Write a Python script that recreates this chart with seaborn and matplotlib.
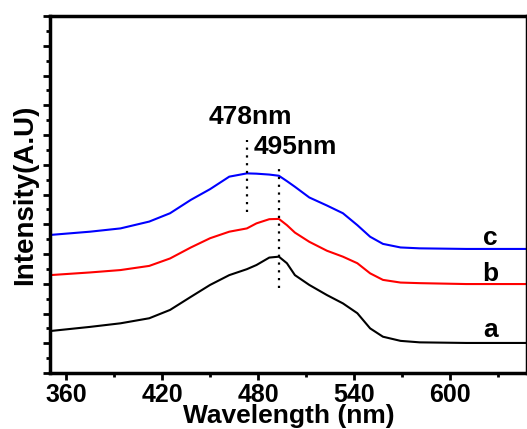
import seaborn as sns
import matplotlib.pyplot as plt
import pandas as pd
from matplotlib.ticker import MultipleLocator, NullFormatter

# wavelength grid (nm) and the three spectra, offset as in the figure
wavelength = [350, 375, 394, 412, 425, 438, 450, 462, 473, 479, 487, 493,
              498, 503, 512, 523, 533, 542, 550, 558, 569, 581, 610, 648]
spec_a = [1.41, 1.55, 1.67, 1.84, 2.12, 2.56, 2.96, 3.29, 3.49, 3.63, 3.88, 3.91,
          3.69, 3.29, 2.96, 2.62, 2.34, 2.01, 1.50, 1.22, 1.08, 1.03, 1.01, 1.01]
spec_b = [3.29, 3.38, 3.46, 3.60, 3.85, 4.22, 4.53, 4.75, 4.86, 5.03, 5.17, 5.18,
          4.97, 4.72, 4.41, 4.11, 3.91, 3.69, 3.35, 3.13, 3.04, 3.02, 2.99, 2.99]
spec_c = [4.64, 4.75, 4.86, 5.09, 5.37, 5.82, 6.18, 6.60, 6.71, 6.70, 6.67, 6.63,
          6.45, 6.26, 5.90, 5.63, 5.37, 4.97, 4.58, 4.34, 4.22, 4.19, 4.17, 4.17]
series_names = ["a", "b", "c"]
series_colors = ["black", "red", "blue"]

# peak markers
peak_pos = [473, 493]
peak_top = [7.83, 6.99]
peak_bottom = [5.41, 2.86]
peak_labels = ["478nm", "495nm"]

rows = []
for name, vals in zip(series_names, [spec_a, spec_b, spec_c]):
    for w, v in zip(wavelength, vals):
        rows.append({"wavelength": w, "intensity": v, "sample": name})
df = pd.DataFrame(rows)

sns.set_style("ticks")
plt.rcParams['font.family'] = ['Liberation Sans', 'DejaVu Sans']
plt.rcParams['font.weight'] = 'bold'
for key in ['text.color', 'axes.labelcolor', 'xtick.color', 'ytick.color', 'axes.edgecolor']:
    plt.rcParams[key] = 'black'

fig = plt.figure(figsize=(5.27, 4.29), dpi=100)
ax = fig.add_axes([50 / 527, 56 / 429, 477 / 527, 357 / 429])

sns.lineplot(data=df, x="wavelength", y="intensity", hue="sample",
             palette=dict(zip(series_names, series_colors)),
             estimator=None, sort=True, linewidth=1.5, legend=False, ax=ax)

ax.vlines(peak_pos, peak_bottom, peak_top, colors="black",
          linestyles=(0, (1, 2.5)), linewidth=1.6)

ax.text(475, 8.6, peak_labels[0], fontsize=19, fontweight="bold",
        ha="center", va="center")
ax.text(503, 7.6, peak_labels[1], fontsize=19, fontweight="bold",
        ha="center", va="center")

for name, y in zip(series_names, [1.45, 3.33, 4.54]):
    ax.text(625, y, name, fontsize=19, fontweight="bold",
            ha="center", va="center")

ax.set_xlim(350, 648)
ax.set_ylim(0, 12)
ax.xaxis.set_major_locator(MultipleLocator(60))
ax.xaxis.set_minor_locator(MultipleLocator(30))
ax.yaxis.set_major_locator(MultipleLocator(1))
ax.yaxis.set_minor_locator(MultipleLocator(0.5))
ax.yaxis.set_major_formatter(NullFormatter())

ax.tick_params(axis="both", which="major", direction="out", length=5, width=2)
ax.tick_params(axis="both", which="minor", direction="out", length=3, width=2)
ax.tick_params(axis="x", labelsize=18, pad=2)
for lab in ax.get_xticklabels():
    lab.set_fontweight("bold")

for sp in ax.spines.values():
    sp.set_linewidth(2.5)
    sp.set_visible(True)

ax.set_xlabel("Wavelength (nm)", fontsize=19, fontweight="bold", labelpad=-2)
ax.set_ylabel("Intensity(A.U)", fontsize=20, fontweight="bold", labelpad=0)

fig.savefig("out.png", dpi=100)
